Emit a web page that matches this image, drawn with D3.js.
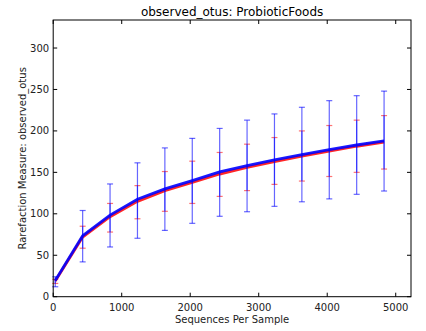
<!DOCTYPE html>
<html><head><meta charset="utf-8">
<script src="https://cdn.jsdelivr.net/npm/d3@7"></script>
<style>body{margin:0;background:#fff}svg{display:block;font-family:"DejaVu Sans",sans-serif}</style>
</head><body><svg id="c" width="426" height="331"></svg>
<script>
const seqs = [30, 430, 830, 1230, 1630, 2030, 2430, 2830, 3230, 3630, 4030, 4430, 4830];
const blueMean = [19.5, 73.5, 98.5, 117.5, 130, 140, 150.5, 158, 165, 171.5, 177.5, 183, 188];
const blueLo   = [12, 42, 60, 70.5, 80, 88.5, 97, 102.5, 109, 114.5, 118, 123.5, 127.5];
const blueHi   = [24, 104, 136, 161.5, 179.5, 191, 203, 213, 220.5, 228.5, 236.5, 242.5, 248];
const redMean  = [19, 72, 96.5, 115, 128, 138, 148, 156, 163, 169.5, 175.5, 181.5, 186.5];
const redLo    = [16, 58.5, 78, 94, 103, 112.5, 121, 128, 135.5, 139.5, 145, 150, 154];
const redHi    = [21, 85, 112.5, 134, 151, 163.5, 174, 184, 192, 200, 206.5, 213, 218.5];
const xTicks = [0, 1000, 2000, 3000, 4000, 5000];
const yTicks = [0, 50, 100, 150, 200, 250, 300];

const svg = d3.select("#c");
const L = 53.2, R = 411, T = 20, B = 296.7;
const x = d3.scaleLinear().domain([0, 5223]).range([L, R]);
const y = d3.scaleLinear().domain([0, 333.8]).range([B, T]);

const g = svg.append("g");
function errbars(lo, hi, lineColor, capColor, opacity) {
  seqs.forEach((s, i) => {
    g.append("line").attr("x1", x(s)).attr("x2", x(s)).attr("y1", y(lo[i])).attr("y2", y(hi[i]))
      .attr("stroke", lineColor).attr("stroke-width", 1.2).attr("stroke-opacity", opacity);
    [lo[i], hi[i]].forEach(v => g.append("line").attr("x1", x(s) - 3).attr("x2", x(s) + 3)
      .attr("y1", y(v)).attr("y2", y(v)).attr("stroke", capColor).attr("stroke-width", 1.2).attr("stroke-opacity", opacity));
  });
}
const line = d3.line().x((d, i) => x(seqs[i])).y(d => y(d));
g.append("path").datum(redMean).attr("d", line).attr("fill", "none").attr("stroke", "#ff0000").attr("stroke-width", 2.8).attr("stroke-opacity", 0.85);
errbars(redLo, redHi, "#0000ff", "#ff0000", 0.55);
errbars(blueLo, blueHi, "#0000ff", "#0000ff", 0.6);
g.append("path").datum(blueMean).attr("d", line).attr("fill", "none").attr("stroke", "#0000ff").attr("stroke-width", 2.8).attr("stroke-opacity", 0.9);

svg.append("rect").attr("x", L).attr("y", T).attr("width", R - L).attr("height", B - T)
  .attr("fill", "none").attr("stroke", "#000").attr("stroke-width", 1);

xTicks.forEach(t => {
  svg.append("line").attr("x1", x(t)).attr("x2", x(t)).attr("y1", B).attr("y2", B - 4).attr("stroke", "#000");
  svg.append("line").attr("x1", x(t)).attr("x2", x(t)).attr("y1", T).attr("y2", T + 4).attr("stroke", "#000");
  svg.append("text").attr("x", x(t)).attr("y", B + 14).attr("text-anchor", "middle").attr("font-size", 10).attr("fill", "#222").text(t);
});
yTicks.forEach(t => {
  svg.append("line").attr("x1", L).attr("x2", L + 4).attr("y1", y(t)).attr("y2", y(t)).attr("stroke", "#000");
  svg.append("line").attr("x1", R).attr("x2", R - 4).attr("y1", y(t)).attr("y2", y(t)).attr("stroke", "#000");
  svg.append("text").attr("x", L - 4).attr("y", y(t) + 3.5).attr("text-anchor", "end").attr("font-size", 10).attr("fill", "#222").text(t);
});

svg.append("text").attr("x", (L + R) / 2).attr("y", 16).attr("text-anchor", "middle").attr("font-size", 12).attr("fill", "#000").text("observed_otus: ProbioticFoods");
svg.append("text").attr("x", (L + R) / 2).attr("y", 323).attr("text-anchor", "middle").attr("font-size", 10).attr("fill", "#222").text("Sequences Per Sample");
svg.append("text").attr("transform", `translate(26,${(T + B) / 2}) rotate(-90)`).attr("text-anchor", "middle").attr("font-size", 10).attr("fill", "#222").text("Rarefaction Measure: observed_otus");
</script></body></html>
